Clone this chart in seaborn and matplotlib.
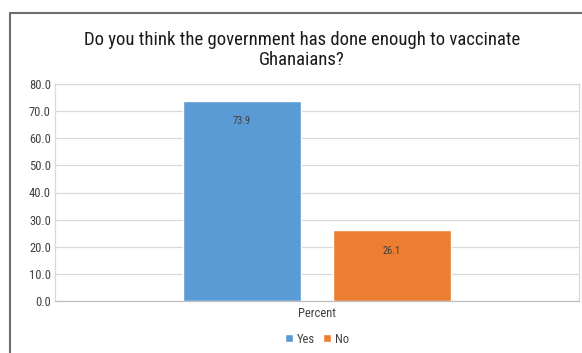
import matplotlib
matplotlib.use("Agg")
import matplotlib.pyplot as plt
import seaborn as sns
import pandas as pd
from matplotlib import font_manager
from matplotlib.lines import Line2D

categories = ["Percent"]
answers = ["Yes", "No"]
values = [73.9, 26.1]
yticks = [0, 10, 20, 30, 40, 50, 60, 70, 80]

sns.set_theme(style="white")
names = {f.name for f in font_manager.fontManager.ttflist}
fam = "Roboto Condensed" if "Roboto Condensed" in names else "Liberation Sans"
plt.rcParams['font.family'] = [fam, 'DejaVu Sans']

df = pd.DataFrame({"cat": categories * len(answers), "answer": answers, "value": values})

W, H = 582, 353
fig = plt.figure(figsize=(W / 100, H / 100), dpi=100)
ax = fig.add_axes([55 / W, 1 - 301 / H, (579 - 55) / W, (301 - 84) / H])

sns.barplot(data=df, x="cat", y="value", hue="answer", hue_order=answers,
            palette=["#5B9BD5", "#ED7D31"], width=0.573, gap=0.21,
            saturation=1, ax=ax, legend=True)

ax.set_ylim(0, 80)
ax.set_xlim(-0.5, 0.5)
ax.set_yticks(yticks)
ax.set_yticklabels([f"{v:.1f}" for v in yticks], fontsize=9, color="#404040")
ax.tick_params(axis="x", labelsize=9, colors="#404040", length=0, pad=4)
ax.tick_params(axis="y", length=0, pad=3)
ax.set_xlabel("")
ax.set_ylabel("")
ax.yaxis.grid(True, color="#d9d9d9", linewidth=0.9)
ax.set_axisbelow(True)
for s in ["top", "right", "left"]:
    ax.spines[s].set_color("#d9d9d9")
    ax.spines[s].set_linewidth(0.9)
ax.spines["bottom"].set_color("#bfbfbf")
ax.spines["bottom"].set_linewidth(0.9)

for cont in ax.containers:
    for bar in cont:
        h = bar.get_height()
        ax.text(bar.get_x() + bar.get_width() / 2, h - 7.5, f"{h:.1f}",
                ha="center", va="center", fontsize=7.5, color="#404040")

ax.legend(loc="upper center", bbox_to_anchor=(0.5, -0.095), ncol=2, frameon=False,
          fontsize=9, handlelength=0.6, handleheight=0.6, handletextpad=0.3,
          columnspacing=0.7, labelcolor="#404040")

fig.text(302 / W, 1 - 50 / H, "Do you think the government has done enough to vaccinate\nGhanaians?",
         ha="center", va="center", fontsize=13.5, color="#1a1a1a", linespacing=1.1)

fig.add_artist(Line2D([10 / W, 10 / W], [0, 1 - 13 / H], transform=fig.transFigure,
                      color="#6e6e6e", linewidth=1.5))
fig.add_artist(Line2D([10 / W, 1], [1 - 13 / H, 1 - 13 / H], transform=fig.transFigure,
                      color="#6e6e6e", linewidth=1.5))

fig.savefig("out.png", dpi=100)
